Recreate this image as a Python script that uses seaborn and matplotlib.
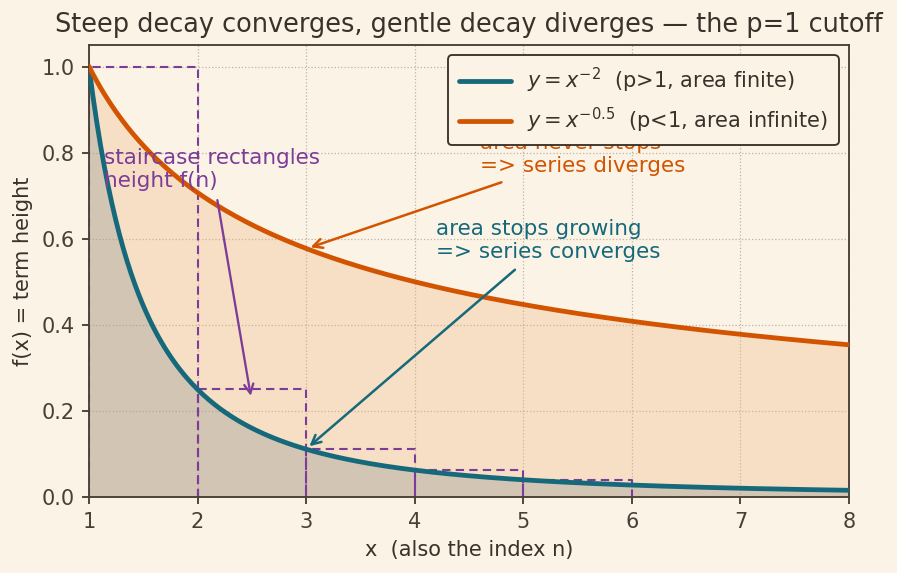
import numpy as np
import pandas as pd
import matplotlib
matplotlib.use("Agg")
import matplotlib.pyplot as plt
import seaborn as sns

# exponents of the two curves (y = x^-p)
steep_p = 2.0
gentle_p = 0.5
x_range = [1, 8]

# staircase rectangles: left edge n, height f(n) = n^-2
stair_n = [1, 2, 3, 4, 5]
stair_h = [1.0, 0.25, 0.111, 0.0625, 0.04]

bg = "#FAF3E6"
ink = "#3B312A"
teal = "#16697A"
orange = "#D35400"
purple = "#7D3C98"

sns.set_theme(style="ticks", rc={
    "figure.facecolor": bg,
    "axes.facecolor": bg,
    "axes.edgecolor": "#4A3F36",
    "axes.labelcolor": ink,
    "xtick.color": "#4A3F36",
    "ytick.color": "#4A3F36",
    "text.color": ink,
    "axes.linewidth": 0.9,
})
plt.rcParams['font.family'] = ['DejaVu Sans']

x = np.linspace(x_range[0], x_range[1], 400)
df = pd.DataFrame({
    "x": np.concatenate([x, x]),
    "y": np.concatenate([x ** -steep_p, x ** -gentle_p]),
    "curve": [r"$y = x^{-2}$  (p>1, area finite)"] * len(x)
             + [r"$y = x^{-0.5}$  (p<1, area infinite)"] * len(x),
})

fig, ax = plt.subplots(figsize=(5.98, 3.82), dpi=150)
fig.subplots_adjust(left=0.0992, right=0.9465, top=0.9215, bottom=0.1326)

ax.fill_between(x, 0, x ** -gentle_p, color="#F0B27A", alpha=0.3, lw=0, zorder=1)
ax.fill_between(x, 0, x ** -steep_p, color="#7F8C8D", alpha=0.3, lw=0, zorder=1)

for n, h in zip(stair_n, stair_h):
    ax.plot([n, n, n + 1, n + 1], [0, h, h, 0], color=purple, lw=1.0,
            ls=(0, (4, 2.5)), zorder=2)

sns.lineplot(data=df, x="x", y="y", hue="curve", palette=[teal, orange],
             linewidth=2.3, ax=ax, zorder=3)

ax.set_xlim(1, 8)
ax.set_ylim(0, 1.05)
ax.set_xticks(range(1, 9))
ax.set_yticks([0, 0.2, 0.4, 0.6, 0.8, 1.0])
ax.tick_params(labelsize=10, length=3.5, width=0.9)
ax.grid(True, ls=":", color="#A89F94", lw=0.6, alpha=0.75)
ax.set_xlabel("x  (also the index n)", fontsize=10)
ax.set_ylabel("f(x) = term height", fontsize=10)
ax.set_title("Steep decay converges, gentle decay diverges — the p=1 cutoff",
             fontsize=12.3, color=ink)

leg = ax.legend(loc="upper right", fontsize=10, frameon=True, fancybox=True,
                facecolor=bg, edgecolor="#3B312A", framealpha=1.0,
                borderpad=0.5, handlelength=2.5)
leg.get_frame().set_linewidth(0.9)
leg.set_zorder(5)

ax.annotate("staircase rectangles\nheight f(n)", xy=(2.49, 0.235),
            xytext=(1.14, 0.71), ha="left", va="bottom", fontsize=10.3,
            color=purple,
            arrowprops=dict(arrowstyle="->", color=purple, lw=1.1,
                            mutation_scale=11, shrinkA=2, shrinkB=0),
            zorder=4)
ax.annotate("area never stops\n=> series diverges", xy=(3.04, 0.58),
            xytext=(4.6, 0.745), ha="left", va="bottom", fontsize=10.3,
            color=orange,
            arrowprops=dict(arrowstyle="->", color=orange, lw=1.2,
                            mutation_scale=11, shrinkA=2, shrinkB=0),
            zorder=4)
ax.annotate("area stops growing\n=> series converges", xy=(3.03, 0.118),
            xytext=(4.2, 0.545), ha="left", va="bottom", fontsize=10.3,
            color=teal,
            arrowprops=dict(arrowstyle="->", color=teal, lw=1.2,
                            mutation_scale=11, shrinkA=2, shrinkB=0),
            zorder=4)

fig.savefig("out.png", dpi=150, facecolor=bg)
